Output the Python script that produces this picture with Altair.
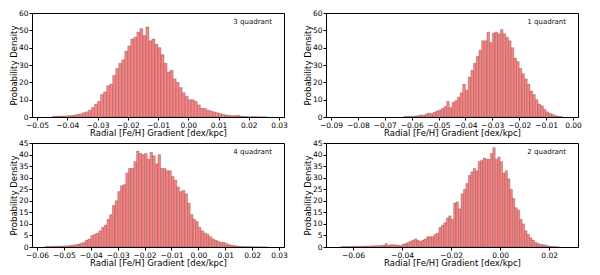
import altair as alt
import numpy as np
import pandas as pd

BIN_WIDTH = 0.001

# ---- panel data: left edge of first bin, then density per 0.001-wide bin ----
tl_label = "3 quadrant"
tl_first = -0.045
tl_density = [0.3, 0.5, 0.5, 0.6, 0.5, 0.8, 0.8, 1.2, 1.5, 1.8,
              2.5, 3.0, 4.0, 5.5, 7.5, 9.0, 13, 14.5, 18, 19,
              24, 28, 31, 33, 38, 41, 45, 46, 49, 51,
              47, 52, 44, 45, 42, 40, 36, 31, 26, 27,
              22, 20, 17, 14, 12, 10, 10, 9, 7, 5,
              5, 4, 3.5, 3, 2.5, 2, 1.5, 1.2, 1.0, 0.8,
              0.8, 1.0, 0.5, 0.4, 0.3, 0.2, 0.2, 0.2, 0.1, 0.1, 0.1]
tl_xticks = [-0.05, -0.04, -0.03, -0.02, -0.01, 0.0, 0.01, 0.02, 0.03]
tl_xdomain = [-0.05, 0.03]

tr_label = "1 quadrant"
tr_first = -0.063
tr_density = [0.3, 0.3, 0.4, 0.5, 0.6, 0.8, 1.2, 1.0, 1.8, 2.3,
              2.0, 2.8, 3.5, 4.0, 5.0, 6.0, 9.0, 5.5, 8.5, 9.5,
              11.5, 14, 19, 15.5, 23, 27, 31, 35, 38.5, 44,
              44, 49, 43, 48.5, 49, 48, 50.5, 48, 46, 44,
              40, 34, 32, 28, 25, 22, 19, 15, 13, 10,
              7.5, 6.5, 4.5, 3, 2, 1.5, 0.8, 0.5, 0.3]
tr_xticks = [-0.09, -0.08, -0.07, -0.06, -0.05, -0.04, -0.03, -0.02, -0.01, 0.0]
tr_xdomain = [-0.09, 0.0]

bl_label = "4 quadrant"
bl_first = -0.057
bl_density = [0.2, 0.2, 0.3, 0.3, 0.3, 0.4, 0.4, 0.5, 0.5, 0.7,
              0.8, 1.0, 1.3, 1.6, 2.0, 3.0, 3.5, 5.0, 5.5, 6.0,
              7.0, 8.5, 9.5, 12, 14, 18, 20, 24, 26.5, 27,
              32, 34, 34, 37, 41.5, 40.5, 40, 40.5, 38, 41,
              39.5, 36, 40, 34, 34, 33, 33, 30.5, 29, 26,
              24, 24.5, 23, 19, 14, 12, 11, 8.5, 7, 6,
              5.5, 4.5, 3.5, 3, 2.5, 2, 2, 1.5, 1, 0.8,
              0.6, 0.4, 0.3, 0.2, 0.2, 0.15, 0.15, 0.1, 0.1, 0.1,
              0.05, 0.05, 0.05]
bl_xticks = [-0.06, -0.05, -0.04, -0.03, -0.02, -0.01, 0.0, 0.01, 0.02, 0.03]
bl_xdomain = [-0.06, 0.03]

br_label = "2 quadrant"
br_first = -0.065
br_density = [0.2, 0.2, 0.2, 0.2, 0.3, 0.3, 0.3, 0.3, 0.3, 0.4,
              0.4, 0.4, 0.5, 0.5, 0.6, 0.5, 0.7, 0.8, 1.5, 0.8,
              1.0, 1.0, 0.9, 0.8, 0.6, 1.2,
              1.5, 2, 2.5, 3, 3.5, 3, 2.5, 3, 3.5, 4.5,
              4.5, 4.5, 5.5, 6, 8.5, 9.5, 10.5, 12.5, 13.5, 12,
              19, 19.5, 16.5, 23, 25, 27.5, 31, 32.5, 34, 33,
              37, 37.5, 38.5, 38, 38, 40.5, 43, 38, 39, 37,
              32, 33, 29.5, 25, 21, 17, 16, 12, 10, 7,
              5.5, 4, 3, 2, 1.5, 1.2, 1, 0.8, 0.5, 0.3,
              0.2, 0.2, 0.1]
br_xticks = [-0.06, -0.04, -0.02, 0.0, 0.02]
br_xdomain = [-0.069, 0.0297]

top_yticks = [0, 10, 20, 30, 40, 50, 60]
bottom_yticks = [0, 5, 10, 15, 20, 25, 30, 35, 40, 45]

X_TITLE = "Radial [Fe/H] Gradient [dex/kpc]"
Y_TITLE = "Probability Density"

W = 252
H = 104


def panel(first, density, xticks, xdomain, yticks, label):
    n = len(density)
    lo = np.round(first + BIN_WIDTH * np.arange(n), 4)
    df = pd.DataFrame({"lo": lo, "hi": np.round(lo + BIN_WIDTH, 4), "d": density})
    bars = alt.Chart(df).mark_bar(
        fill="#f98383", stroke="#000000", strokeWidth=0.25, strokeOpacity=0.75,
        orient="vertical"
    ).encode(
        x=alt.X("lo:Q", title=X_TITLE,
                scale=alt.Scale(domain=xdomain, nice=False, zero=False),
                axis=alt.Axis(values=xticks, format=".2f")),
        x2="hi:Q",
        y=alt.Y("d:Q", title=Y_TITLE,
                scale=alt.Scale(domain=[yticks[0], yticks[-1]], nice=False),
                axis=alt.Axis(values=yticks, format="d")),
        y2=alt.datum(0),
    )
    txt = alt.Chart(pd.DataFrame({"t": [label]})).mark_text(
        align="right", baseline="middle", fontSize=7, font="DejaVu Sans", color="#111111"
    ).encode(x=alt.value(W - 12), y=alt.value(9), text="t:N")
    return alt.layer(bars, txt).properties(width=W, height=H)


p1 = panel(tl_first, tl_density, tl_xticks, tl_xdomain, top_yticks, tl_label)
p2 = panel(tr_first, tr_density, tr_xticks, tr_xdomain, top_yticks, tr_label)
p3 = panel(bl_first, bl_density, bl_xticks, bl_xdomain, bottom_yticks, bl_label)
p4 = panel(br_first, br_density, br_xticks, br_xdomain, bottom_yticks, br_label)

chart = alt.concat(p1, p2, p3, p4, columns=2, spacing={"row": 0, "column": 14}).properties(
    padding=0
).configure_view(
    stroke="#000000", strokeWidth=1
).configure_axis(
    grid=False,
    labelFont="DejaVu Sans", titleFont="DejaVu Sans",
    labelFontSize=7.5, titleFontSize=8.5, titleFontWeight="normal",
    labelColor="#000000", titleColor="#000000",
    domainColor="#000000", tickColor="#000000",
    tickSize=3, labelPadding=1, titlePadding=0,
    labelFlush=False, labelOverlap=False,
)

chart.save("out.html", embed_options={"renderer": "svg", "actions": False})
